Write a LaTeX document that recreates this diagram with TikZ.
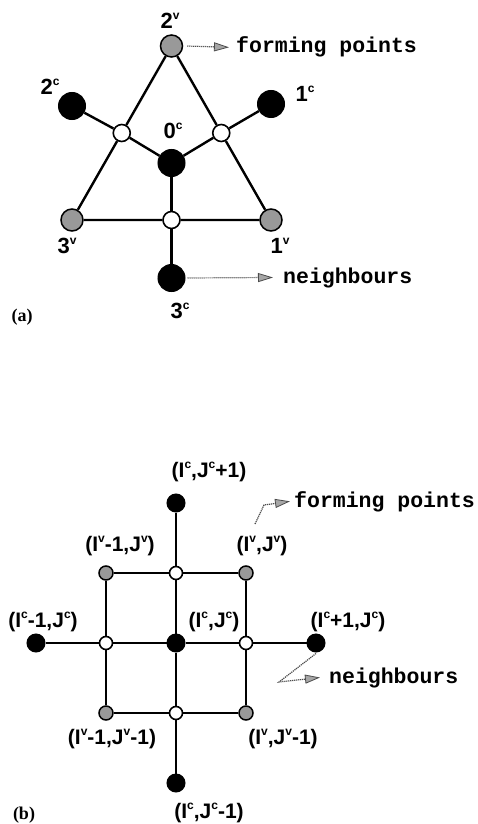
\documentclass[tikz,border=0pt]{standalone}
\usepackage{fontspec}
\setmainfont{Liberation Sans}
\newfontfamily\courfont{Liberation Mono}
\newfontfamily\timesfont{Liberation Serif}
\usetikzlibrary{arrows.meta, positioning}
\newcommand{\lsup}[1]{\raisebox{0.42em}{\fontsize{12}{12}\selectfont #1}}

\begin{document}
\begin{tikzpicture}[x=1pt, y=-1pt, line width=2.4pt, node distance=70pt,
    cen/.style = {draw, circle, fill=black, line width=1pt, inner sep=0pt, minimum size=#1},
    ver/.style = {draw, circle, fill=gray!80, line width=1.5pt, inner sep=0pt, minimum size=#1},
    mid/.style = {draw, circle, fill=white, line width=1.6pt, inner sep=0pt, minimum size=#1},
    lbla/.style = {inner sep=0pt, font=\bfseries\fontsize{22}{24}\selectfont},
    lblb/.style = {inner sep=0pt, font=\bfseries\fontsize{21}{24}\selectfont},
    txt/.style = {inner sep=0pt, anchor=base west, font=\courfont\bfseries\fontsize{21.5}{24}\selectfont},
    tag/.style = {inner sep=0pt, font=\timesfont\bfseries\fontsize{18}{20}\selectfont},
    pointer/.style = {gray!60!black, line width=1.2pt, dash pattern=on 1.2pt off 0.8pt,
        -{Triangle[length=15pt, width=9pt, fill=gray!70, line width=0.8pt]}}]
    \useasboundingbox (0,0) rectangle (478,824);

    \node[ver=22pt] (V2) at (171.5,46) {};
    \node[ver=22pt] (V3) at (72,220) {};
    \node[ver=22pt] (V1) at (271,220) {};
    \node[mid=17pt] (ML) at (121.75,133) {};
    \node[mid=17pt] (MR) at (221.25,133) {};
    \node[mid=17pt] (MB) at (171.5,220) {};
    \node[cen=27pt] (C0) at (171.5,163) {};
    \node[cen=27pt] (C2) at (72,106) {};
    \node[cen=27pt] (C1) at (271,104) {};
    \node[cen=27pt] (C3) at (171.5,278) {};

    \draw (V2) -- (ML) -- (V3) -- (MB) -- (V1) -- (MR) -- (V2);
    \draw (C2) -- (ML) -- (C0) -- (MR) -- (C1);
    \draw (C0) -- (MB) -- (C3);

    \node[lbla] (l2v) at (170,21) {2\lsup{v}};
    \node[lbla] (l2c) at (50,87) {2\lsup{c}};
    \node[lbla] (l1c) at (305,94) {1\lsup{c}};
    \node[lbla] (l0c) at (173,131) {0\lsup{c}};
    \node[lbla] (l3v) at (67,246) {3\lsup{v}};
    \node[lbla] (l1v) at (280,246) {1\lsup{v}};
    \node[lbla] (l3c) at (180,311) {3\lsup{c}};

    \node[txt] (fpa) at (235,53) {forming points};
    \node[txt] (nba) at (282,283) {neighbours};
    \draw[pointer] ([xshift=4pt]V2.east) -- ([xshift=-6pt]fpa.west);
    \draw[pointer] ([xshift=2pt]C3.east) -- ([xshift=-9pt]nba.west);

    \node[tag] (ta) at (22,317) {(a)};

    \node[cen=18pt] (C) at (176,643) {};
    \node[mid=13pt] (ME) [right of=C] {};
    \node[mid=13pt] (MW) [left of=C] {};
    \node[mid=13pt] (MN) [above of=C] {};
    \node[mid=13pt] (MS) [below of=C] {};
    \node[ver=14pt] (NE) [above of=ME] {};
    \node[ver=14pt] (NW) [above of=MW] {};
    \node[ver=14pt] (SE) [below of=ME] {};
    \node[ver=14pt] (SW) [below of=MW] {};
    \node[cen=18pt] (CE) [right of=ME] {};
    \node[cen=18pt] (CW) [left of=MW] {};
    \node[cen=18pt] (CN) [above of=MN] {};
    \node[cen=18pt] (CS) [below of=MS] {};

    \draw (CW) -- (MW) -- (C) -- (ME) -- (CE);
    \draw (CN) -- (MN) -- (C) -- (MS) -- (CS);
    \draw (NW) -- (MN) -- (NE) -- (ME) -- (SE) -- (MS) -- (SW) -- (MW) -- (NW);

    \node[lblb] (lCN) at (209,472) {(I\lsup{c},J\lsup{c}+1)};
    \node[lblb] (lNW) at (120,546) {(I\lsup{v}-1,J\lsup{v})};
    \node[lblb] (lNE) at (262,546) {(I\lsup{v},J\lsup{v})};
    \node[lblb] (lCW) at (43,622) {(I\lsup{c}-1,J\lsup{c})};
    \node[lblb] (lC) at (214,622) {(I\lsup{c},J\lsup{c})};
    \node[lblb] (lCE) at (348,622) {(I\lsup{c}+1,J\lsup{c})};
    \node[lblb] (lSW) at (112,739) {(I\lsup{v}-1,J\lsup{v}-1)};
    \node[lblb] (lSE) at (283,739) {(I\lsup{v},J\lsup{v}-1)};
    \node[lblb] (lCS) at (209,813) {(I\lsup{c},J\lsup{c}-1)};

    \node[txt] (fpb) at (293,507) {forming points};
    \node[txt] (nbb) at (328,683) {neighbours};
    \coordinate (fpfoot) at (255,524);
    \coordinate (fpknee) at (264,505);
    \coordinate (nbknee) at (279,682);
    \draw[pointer] (fpfoot) -- (fpknee) -- ([xshift=-3pt]fpb.west);
    \draw[pointer] ([yshift=-1pt]CE.south) -- (nbknee) -- ([xshift=-8pt]nbb.west);

    \node[tag] (tb) at (24,815) {(b)};
\end{tikzpicture}
\end{document}
